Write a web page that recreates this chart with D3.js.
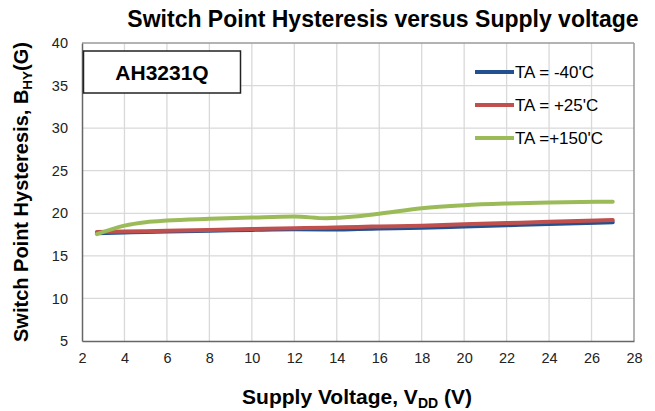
<!DOCTYPE html>
<html>
<head>
<meta charset="utf-8">
<script src="https://cdn.jsdelivr.net/npm/d3@7"></script>
<style>
  body { margin: 0; background: #fff; }
  svg { display: block; font-family: Arial, "Liberation Sans", sans-serif; }
</style>
</head>
<body>
<svg id="chart" width="655" height="411"></svg>
<script>
// supply voltage (V)
const vdd = [2.7, 4, 5, 6, 8, 10, 12, 13.5, 15, 16, 18, 20, 22, 24, 27];
// hysteresis B_HY (G) per temperature
const hysM40 = [17.65, 17.75, 17.8, 17.85, 17.95, 18.05, 18.12, 18.1, 18.15, 18.2, 18.3, 18.45, 18.6, 18.75, 18.95];
const hysP25 = [17.8, 17.85, 17.9, 17.95, 18.05, 18.15, 18.25, 18.3, 18.4, 18.45, 18.55, 18.7, 18.85, 19.0, 19.2];
const hysP150 = [17.55, 18.55, 18.95, 19.15, 19.35, 19.5, 19.62, 19.42, 19.65, 19.95, 20.6, 20.95, 21.15, 21.28, 21.36];
const seriesNames = ["TA = -40'C", "TA = +25'C", "TA =+150'C"];
const seriesColors = ["#23508f", "#c0504d", "#9bbb59"];
const xTicks = d3.range(2, 29, 2);
const yTicks = d3.range(5, 41, 5);

const margin = { top: 43, right: 21, bottom: 70, left: 82 };
const width = 655, height = 411;

const svg = d3.select("#chart");

const x = d3.scaleLinear().domain([2, 28]).range([margin.left, width - margin.right]);
const y = d3.scaleLinear().domain([5, 40]).range([height - margin.bottom, margin.top]);

// gridlines
svg.append("g")
  .selectAll("line.vg")
  .data(xTicks.slice(1, -1))
  .join("line")
  .attr("x1", (d) => x(d)).attr("x2", (d) => x(d))
  .attr("y1", y(5)).attr("y2", y(40))
  .attr("stroke", "#d9d9d9").attr("stroke-width", 1.3);

svg.append("g")
  .selectAll("line.hg")
  .data(yTicks.slice(1, -1))
  .join("line")
  .attr("x1", x(2)).attr("x2", x(28))
  .attr("y1", (d) => y(d)).attr("y2", (d) => y(d))
  .attr("stroke", "#d9d9d9").attr("stroke-width", 1.3);

// frame
svg.append("line").attr("x1", x(2)).attr("x2", x(28)).attr("y1", y(40)).attr("y2", y(40))
  .attr("stroke", "#9a9a9a").attr("stroke-width", 1.5);
svg.append("line").attr("x1", x(28)).attr("x2", x(28)).attr("y1", y(40)).attr("y2", y(5))
  .attr("stroke", "#9a9a9a").attr("stroke-width", 1.5);

// axes
const xAxis = svg.append("g")
  .attr("transform", `translate(0,${y(5)})`)
  .call(d3.axisBottom(x).tickValues(xTicks).tickSize(0).tickPadding(12));
const yAxis = svg.append("g")
  .attr("transform", `translate(${x(2)},0)`)
  .call(d3.axisLeft(y).tickValues(yTicks).tickSize(0).tickPadding(14));
[xAxis, yAxis].forEach((a) => {
  a.select(".domain").attr("stroke", "#666").attr("stroke-width", 1.5);
  a.selectAll("text").attr("font-size", 14.5).attr("fill", "#222")
    .attr("font-family", "Arial, 'Liberation Sans', sans-serif");
});

// model name box
svg.append("rect")
  .attr("x", x(2) + 1.5).attr("y", 51).attr("width", 157).attr("height", 42)
  .attr("fill", "#fff").attr("stroke", "#222").attr("stroke-width", 1.5);
svg.append("text")
  .attr("x", x(2) + 80).attr("y", 80)
  .attr("text-anchor", "middle").attr("font-size", 21).attr("font-weight", "bold")
  .text("AH3231Q");

// curves
const allSeries = [hysM40, hysP25, hysP150];
const line = d3.line()
  .x((d, i) => x(vdd[i]))
  .y((d) => y(d))
  .curve(d3.curveMonotoneX);

svg.append("g")
  .selectAll("path")
  .data(allSeries)
  .join("path")
  .attr("d", line)
  .attr("fill", "none")
  .attr("stroke", (d, i) => seriesColors[i])
  .attr("stroke-width", 4)
  .attr("stroke-linecap", "round");

// legend
const legend = svg.append("g");
seriesNames.forEach((name, i) => {
  const ly = 72 + i * 33;
  legend.append("line")
    .attr("x1", 475).attr("x2", 514).attr("y1", ly).attr("y2", ly)
    .attr("stroke", seriesColors[i]).attr("stroke-width", 4);
  legend.append("text")
    .attr("x", 515).attr("y", ly + 6)
    .attr("font-size", 17)
    .text(name);
});

// titles
svg.append("text")
  .attr("x", 383).attr("y", 27)
  .attr("text-anchor", "middle").attr("font-size", 23).attr("font-weight", "bold")
  .text("Switch Point Hysteresis versus Supply voltage");

const xl = svg.append("text")
  .attr("x", 357).attr("y", 404)
  .attr("text-anchor", "middle").attr("font-size", 21).attr("font-weight", "bold");
xl.append("tspan").text("Supply Voltage, V");
xl.append("tspan").attr("font-size", 14).attr("dy", 4).text("DD");
xl.append("tspan").attr("dy", -4).text(" (V)");

const yl = svg.append("text")
  .attr("transform", `translate(28,${(y(5) + y(40)) / 2}) rotate(-90)`)
  .attr("text-anchor", "middle").attr("font-size", 20).attr("font-weight", "bold");
yl.append("tspan").text("Switch Point Hysteresis, B");
yl.append("tspan").attr("font-size", 13.5).attr("dy", 4).text("HY");
yl.append("tspan").attr("dy", -4).text("(G)");
</script>
</body>
</html>
